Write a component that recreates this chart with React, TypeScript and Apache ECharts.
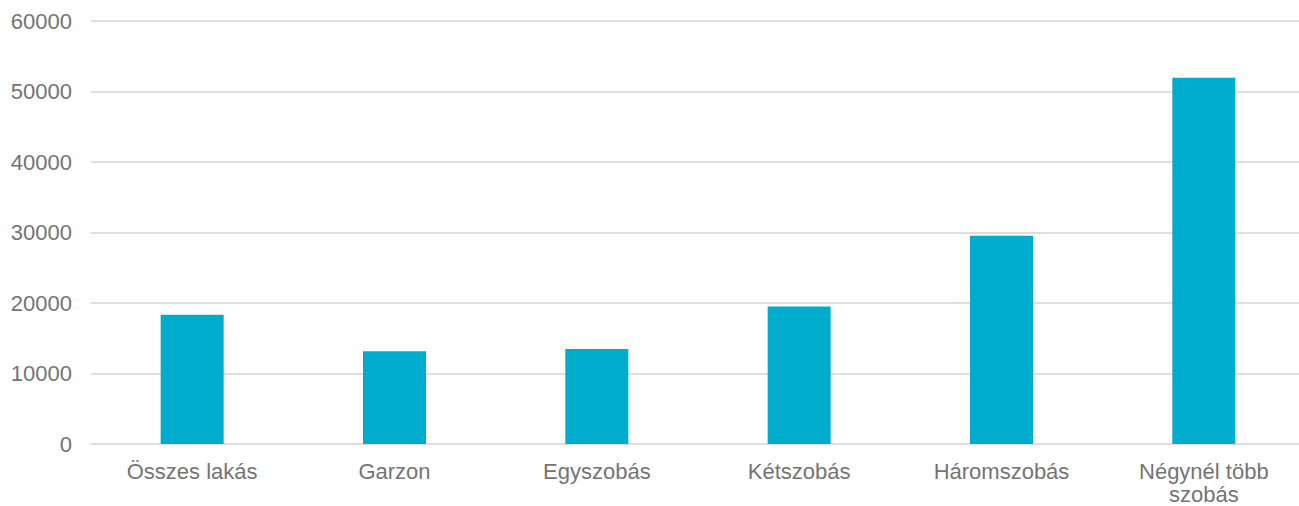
import React, { useEffect, useRef } from "react";
import * as echarts from "echarts";

const categories = ["Összes lakás", "Garzon", "Egyszobás", "Kétszobás", "Háromszobás", "Négynél több\nszobás"];
const values = [18340, 13140, 13480, 19520, 29530, 51950];
const yTicks = { min: 0, max: 60000, interval: 10000 };

export default function App() {
  const ref = useRef<HTMLDivElement>(null);
  useEffect(() => {
    document.body.style.margin = "0";
    document.body.style.overflow = "hidden";
    const chart = echarts.init(ref.current!, null, { renderer: "svg" });
    const font = "'Liberation Sans', Arial, Helvetica, sans-serif";
    chart.setOption({
      animation: false,
      backgroundColor: "#ffffff",
      grid: { left: 91, right: 0, top: 21, bottom: 61.5, containLabel: false },
      xAxis: {
        type: "category",
        data: categories,
        axisLine: { show: true, lineStyle: { color: "#dedede", width: 2 } },
        axisTick: { show: false },
        axisLabel: {
          color: "#747474",
          fontFamily: font,
          fontSize: 22,
          margin: 16,
          lineHeight: 23,
          interval: 0,
        },
      },
      yAxis: {
        type: "value",
        min: yTicks.min,
        max: yTicks.max,
        interval: yTicks.interval,
        axisLine: { show: false },
        axisTick: { show: false },
        splitLine: { lineStyle: { color: "#dedede", width: 2 } },
        axisLabel: {
          color: "#747474",
          fontFamily: font,
          fontSize: 22,
          margin: 19,
          formatter: (v: number) => String(v),
        },
      },
      series: [
        {
          type: "bar",
          data: values,
          barWidth: 63,
          itemStyle: { color: "#00accb" },
        },
      ],
    });
    return () => chart.dispose();
  }, []);
  return (
    <div style={{ width: 1299, height: 506, overflow: "hidden" }}>
      <div ref={ref} style={{ width: 1305, height: 506 }} />
    </div>
  );
}
